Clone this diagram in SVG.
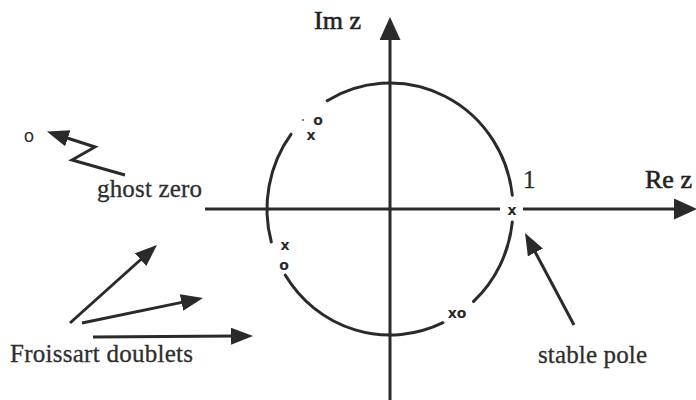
<svg xmlns="http://www.w3.org/2000/svg" width="696" height="400" viewBox="0 0 696 400">
<defs>
<style>
.ln{fill:none;stroke:#2a2a2a;stroke-width:3;stroke-linecap:butt}
.circ{fill:none;stroke:#2a2a2a;stroke-width:3;stroke-linecap:round}
.lbl{font-family:"Liberation Serif","Times New Roman",serif;fill:#2e2e2e;stroke:#2e2e2e;stroke-width:0.3;font-size:25px}
.ax{font-family:"Liberation Serif","Times New Roman",serif;fill:#222;stroke:#222;stroke-width:0.6;font-size:26px}
.sym{font-family:"DejaVu Sans","Liberation Sans",sans-serif;fill:#2a2a2a;font-size:14px;font-weight:bold;text-anchor:middle}
</style>
<marker id="ah" markerUnits="userSpaceOnUse" markerWidth="24" markerHeight="18" refX="4" refY="8.5" orient="auto">
<path d="M0,0 L22,8.5 L0,17 z" fill="#2a2a2a"/>
</marker>
<marker id="axh" markerUnits="userSpaceOnUse" markerWidth="25" markerHeight="22" refX="5" refY="10.5" orient="auto">
<path d="M0,0 L23,10.5 L0,21 z" fill="#2a2a2a"/>
</marker>
</defs>
<rect width="696" height="400" fill="#fff"/>

<g id="connectors">
<line id="im-axis" class="ln" x1="390" y1="400" x2="390" y2="35" marker-end="url(#axh)"/>
<line id="re-axis-left" class="ln" x1="205" y1="209" x2="500" y2="209"/>
<line id="re-axis-right" class="ln" x1="523" y1="209" x2="679" y2="209" marker-end="url(#axh)"/>
<polyline id="ghost-arrow" class="ln" stroke-width="3.5" stroke-linejoin="miter" points="125,175 72,160 95,147 64,137" marker-end="url(#ah)"/>
<line id="froissart-arrow-1" class="ln" x1="70" y1="323" x2="143.6" y2="257" marker-end="url(#ah)"/>
<line id="froissart-arrow-2" class="ln" x1="82" y1="323" x2="185.4" y2="301.6" marker-end="url(#ah)"/>
<line id="froissart-arrow-3" class="ln" x1="93" y1="337" x2="235" y2="336.1" marker-end="url(#ah)"/>
<line id="stable-arrow" class="ln" x1="574" y1="325" x2="533.5" y2="248.9" marker-end="url(#ah)"/>
</g>

<g id="unit-circle">
<path class="circ" d="M512.3,222 A123,126 0 0 1 473.6,301.4"/>
<path class="circ" d="M443,322.7 A123,126 0 0 1 285.2,275"/>
<path class="circ" d="M271.3,242 A123,126 0 0 1 291.1,134.1"/>
<path class="circ" d="M327.2,100.7 A123,126 0 0 1 512.3,195.2"/>
</g>

<g id="axis-labels">
<text class="ax" x="314" y="29">Im z</text>
<text class="ax" x="645" y="188">Re z</text>
<text class="lbl" x="523" y="188" font-size="20">1</text>
</g>

<g id="doublet-top">
<circle cx="303" cy="120" r="1" fill="#555"/>
<text class="sym" x="318" y="125">o</text>
<text class="sym" x="311" y="140">x</text>
</g>

<g id="doublet-left">
<text class="sym" x="285" y="250" font-size="11">x</text>
<text class="sym" x="284" y="270">o</text>
</g>

<g id="doublet-bottom">
<text class="sym" x="457" y="318" font-size="13">xo</text>
</g>

<g id="stable-pole-marker">
<text class="sym" x="512" y="215">x</text>
</g>

<g id="ghost-zero-marker">
<text x="29" y="142" font-family="DejaVu Sans, sans-serif" font-size="17" fill="#2a2a2a" text-anchor="middle">o</text>
</g>

<g id="ghost-zero">
<text class="lbl" x="97" y="197" textLength="105">ghost zero</text>
</g>

<g id="froissart-doublets">
<text class="lbl" x="10" y="362" textLength="183">Froissart doublets</text>
</g>

<g id="stable-pole">
<text class="lbl" x="538" y="363" textLength="109">stable pole</text>
</g>
</svg>
